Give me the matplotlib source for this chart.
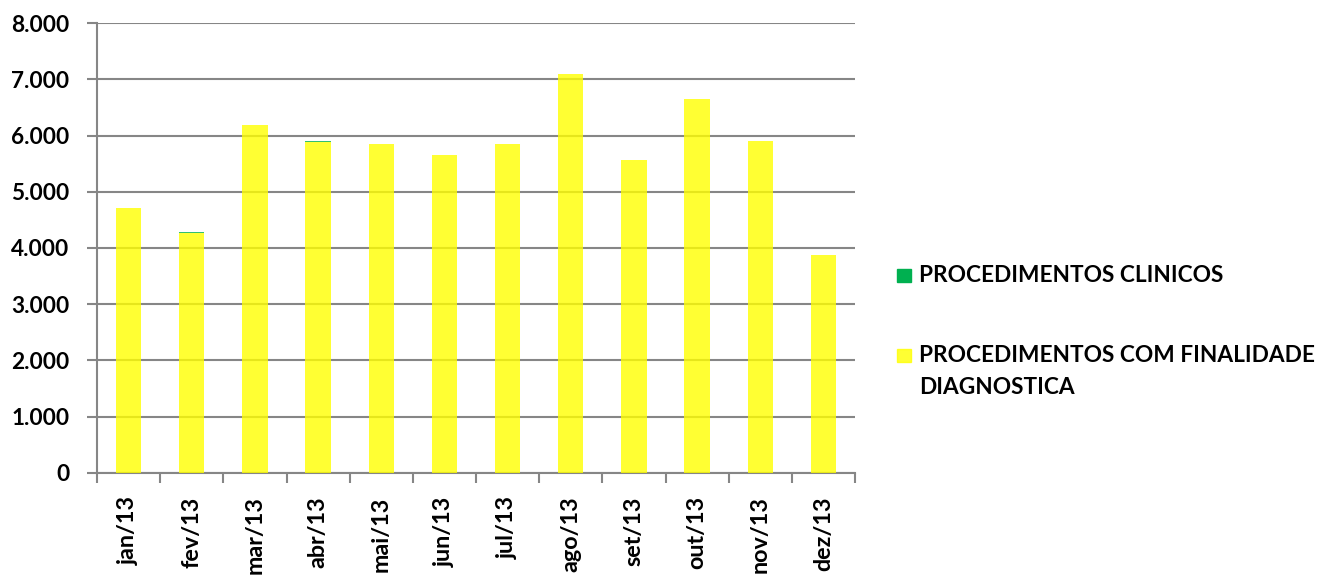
import numpy as np
import matplotlib
matplotlib.use("Agg")
import matplotlib.pyplot as plt
from matplotlib.patches import Rectangle
from matplotlib.ticker import FuncFormatter

# monthly procedures, 2013
months = ["jan/13", "fev/13", "mar/13", "abr/13", "mai/13", "jun/13",
          "jul/13", "ago/13", "set/13", "out/13", "nov/13", "dez/13"]
diagnostica = [4710, 4270, 6185, 5890, 5860, 5660,
               5850, 7090, 5575, 6645, 5910, 3870]
clinicos = [0, 20, 0, 18, 0, 0, 0, 0, 0, 0, 0, 0]

label_clin = "PROCEDIMENTOS CLINICOS"
label_diag = "PROCEDIMENTOS COM FINALIDADE\nDIAGNOSTICA"

GRID = "#868686"
GREEN = "#00b050"
YELLOW = "#ffff00"
FS = 16.3
plt.rcParams["font.family"] = ["Lato", "DejaVu Sans"]
plt.rcParams["font.weight"] = "bold"

fig = plt.figure(figsize=(13.17, 5.77), dpi=100)
ax = fig.add_axes([0.0737, 0.1808, 0.5755, 0.7788])

x = np.arange(len(months))
ax.bar(x, diagnostica, width=0.4, color=YELLOW, alpha=0.8, zorder=3)
ax.bar(x, clinicos, width=0.4, bottom=diagnostica, color=GREEN,
       alpha=0.8, zorder=3)

ax.set_xlim(-0.5, len(months) - 0.5)
ax.set_ylim(0, 8000)
ax.set_yticks(np.arange(0, 8001, 1000))
ax.yaxis.set_major_formatter(FuncFormatter(lambda v, p: f"{int(v):,}".replace(",", ".")))
ax.grid(axis="y", color=GRID, linewidth=1.5, zorder=1)

ax.set_xticks(x)
ax.set_xticklabels(months, rotation=90, va="top", ha="center")
ax.set_xticks(np.arange(len(months) + 1) - 0.5, minor=True)
ax.tick_params(axis="x", which="major", length=0, pad=17, labelsize=16.8)
ax.tick_params(axis="x", which="minor", length=7, width=1.5, color=GRID,
               direction="out")
ax.tick_params(axis="y", length=7, width=1.5, color=GRID, pad=13,
               labelsize=FS)

for s in ["top", "right"]:
    ax.spines[s].set_visible(False)
for s in ["left", "bottom"]:
    ax.spines[s].set_color(GRID)
    ax.spines[s].set_linewidth(1.5)

# legend drawn by hand so the square sits on the first text line
W, H = 1317, 577
for col, lab, base in [(GREEN, label_clin, 281.5), (YELLOW, label_diag, 361.5)]:
    fig.patches.append(Rectangle((897 / W, 1 - base / H), 14 / W, 13 / H,
                                 transform=fig.transFigure, color=col,
                                 alpha=0.8 if col == YELLOW else 1))
    for i, line in enumerate(lab.split("\n")):
        fig.text(919 / W, 1 - (base + 33 * i) / H, line, fontsize=FS,
                 va="baseline", ha="left", transform=fig.transFigure)

fig.savefig("out.png", dpi=100)
